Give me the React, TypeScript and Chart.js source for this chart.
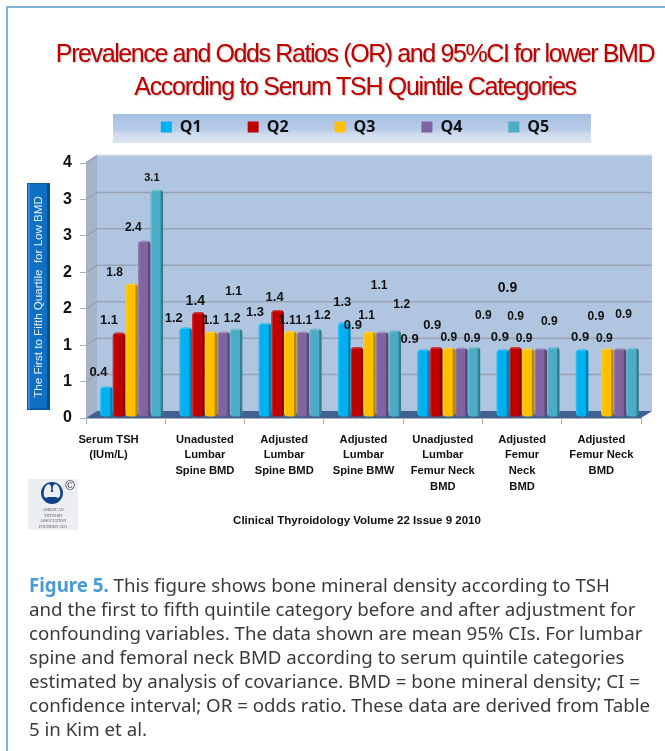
import React, { useEffect, useRef } from "react";
import { Chart, registerables } from "chart.js";

Chart.register(...registerables);

const categories = [
  ["Serum TSH", "(IUm/L)"],
  ["Unadusted", "Lumbar", "Spine BMD"],
  ["Adjusted", "Lumbar", "Spine BMD"],
  ["Adjusted", "Lumbar", "Spine BMW"],
  ["Unadjusted", "Lumbar", "Femur Neck", "BMD"],
  ["Adjusted", "Femur", "Neck", "BMD"],
  ["Adjusted", "Femur Neck", "BMD"],
];
const seriesNames = ["Q1", "Q2", "Q3", "Q4", "Q5"];
const q1Values = [0.42, 1.23, 1.29, 1.3, 0.93, 0.93, 0.93];
const q2Values = [1.16, 1.44, 1.47, 0.96, 0.96, 0.96, null];
const q3Values = [1.83, 1.17, 1.18, 1.17, 0.95, 0.94, 0.94];
const q4Values = [2.42, 1.17, 1.17, 1.17, 0.95, 0.94, 0.94];
const q5Values = [3.12, 1.21, 1.21, 1.19, 0.96, 0.96, 0.95];
const q1Labels = ["0.4", "1.2", "1.3", "1.3", "0.9", "0.9", "0.9"];
const q2Labels = ["1.1", "1.4", "1.4", "0.9", "0.9", "0.9", ""];
const q3Labels = ["1.8", "1.1", "1.1", "1.1", "0.9", "0.9", "0.9"];
const q4Labels = ["2.4", "1.1", "1.1", "1.1", "0.9", "0.9", "0.9"];
const q5Labels = ["3.1", "1.2", "1.2", "1.2", "0.9", "0.9", "0.9"];
const yTickLabels = ["0", "1", "1", "2", "2", "3", "3", "4"];
const titleLine1 = "Prevalence and Odds Ratios (OR) and 95%CI for lower BMD";
const titleLine2 = "According to Serum TSH Quintile Categories";
const yTitle = "The First to Fifth Quartile  for Low BMD";
const sourceNote = "Clinical Thyroidology Volume 22 Issue 9 2010";
const logoLines = ["AMERICAN", "THYROID", "ASSOCIATION", "FOUNDED 1923"];
const captionLead = "Figure 5.";
const captionLines = [
  " This figure shows bone mineral density according to TSH",
  "and the first to fifth quintile category before and after adjustment for",
  "confounding variables. The data shown are mean 95% CIs. For lumbar",
  "spine and femoral neck BMD according to serum quintile categories",
  "estimated by analysis of covariance. BMD = bone mineral density; CI =",
  "confidence interval; OR = odds ratio. These data are derived from Table",
  "5 in Kim et al.",
];

const seriesValues = [q1Values, q2Values, q3Values, q4Values, q5Values];
const seriesLabels = [q1Labels, q2Labels, q3Labels, q4Labels, q5Labels];
const seriesColors = ["#00b0f0", "#c00000", "#ffc000", "#8064a2", "#4bacc6"];

// Style table: nudges of the free-floating value labels from their bar tops, [dx, dy, font px].
const labelNudges: number[][][] = [
  [[-8, -14, 13], [-10, -12, 13], [-17, -11, 12], [-11, -13, 12], [-5, -12, 11]],
  [[-12, -9, 13], [-3, -11, 14], [0, -11, 12], [10, -40, 12], [-4, -10, 12]],
  [[-10, -11, 13], [-3, -12, 13], [-3, -10, 12], [1, -11, 12], [7, -13, 12]],
  [[-2, -20, 13], [-4, -22, 13], [-3, -16, 12], [-3, -46, 12], [7, -26, 12]],
  [[-14, -10, 13], [-4, -22, 13], [0, -10, 12], [22, -32, 12], [-2, -8, 12]],
  [[-3, -12, 13], [-8, -59, 14], [-4, -10, 12], [-25, -32, 12], [-4, -25, 12]],
  [[-2, -12, 13], [0, 0, 12], [-3, -10, 12], [-24, -32, 12], [-9, -33, 12]],
];

const DEPTH_X = 11;
const DEPTH_Y = 7;
const BAR_SHIFT_X = 6;
const BAR_SHIFT_Y = -1;
const SANS = "'Liberation Sans', Arial, sans-serif";

function styleTitleBox(chart: any, box: any, spacing: string) {
  if (!box) return;
  box.left = 40;
  box.right = 670;
  if (box.__wrapped) return;
  const draw = box.draw.bind(box);
  box.draw = () => {
    const c = chart.ctx;
    c.save();
    c.letterSpacing = spacing;
    c.shadowColor = "rgba(90,90,90,0.4)";
    c.shadowOffsetX = 1;
    c.shadowOffsetY = 1;
    c.shadowBlur = 1.5;
    draw();
    c.restore();
  };
  box.__wrapped = true;
}

const scenery = {
  id: "scenery",
  beforeLayout(chart: any) {
    const legend = chart.legend;
    if (legend && !legend.__wrapped) {
      const fit = legend.fit.bind(legend);
      legend.fit = () => {
        fit();
        legend.height = 90;
      };
      legend.__wrapped = true;
    }
  },
  afterLayout(chart: any) {
    styleTitleBox(chart, chart.titleBlock, "-1.4px");
    styleTitleBox(chart, chart.boxes.find((b: any) => b.options && b.options.text === titleLine2), "-1.3px");
    const y = chart.scales.y;
    y.left = chart.chartArea.left - 37;
    y.width = 37;
  },
  beforeDraw(chart: any) {
    const c = chart.ctx;
    const { left, right, top, bottom } = chart.chartArea;
    c.save();
    // legend band
    const band = c.createLinearGradient(0, 114, 0, 143);
    band.addColorStop(0, "#a6bfe4");
    band.addColorStop(0.55, "#b9cce8");
    band.addColorStop(0.7, "#d0dcee");
    band.addColorStop(1, "#dbe4f1");
    c.fillStyle = band;
    c.fillRect(113, 114, 478, 29);
    // back wall
    c.fillStyle = "#b0c6e0";
    c.fillRect(left + DEPTH_X, top - DEPTH_Y - 1, right - left, bottom - top + 1);
    c.strokeStyle = "#dfe3e8";
    c.lineWidth = 1.5;
    c.beginPath();
    c.moveTo(left, top);
    c.lineTo(left + DEPTH_X, top - DEPTH_Y - 1);
    c.lineTo(right + DEPTH_X, top - DEPTH_Y - 1);
    c.stroke();
    // side wall
    const side = c.createLinearGradient(left, 0, left + DEPTH_X, 0);
    side.addColorStop(0, "#a8b4c6");
    side.addColorStop(1, "#a4b5ca");
    c.fillStyle = side;
    c.beginPath();
    c.moveTo(left, top);
    c.lineTo(left + DEPTH_X, top - DEPTH_Y - 1);
    c.lineTo(left + DEPTH_X, bottom - DEPTH_Y);
    c.lineTo(left, bottom);
    c.closePath();
    c.fill();
    // wall gridlines
    const y = chart.scales.y;
    c.strokeStyle = "#97a3b4";
    c.lineWidth = 1.5;
    y.ticks.forEach((t: any, i: number) => {
      if (i === 0) return;
      const py = y.getPixelForValue(t.value);
      c.beginPath();
      c.moveTo(left, py);
      c.lineTo(left + DEPTH_X, py - DEPTH_Y);
      if (i < y.ticks.length - 1) c.lineTo(right + DEPTH_X, py - DEPTH_Y);
      c.stroke();
    });
    // floor
    c.fillStyle = "#3f6090";
    c.beginPath();
    c.moveTo(left, bottom);
    c.lineTo(left + DEPTH_X, bottom - DEPTH_Y);
    c.lineTo(right + DEPTH_X, bottom - DEPTH_Y);
    c.lineTo(right, bottom);
    c.closePath();
    c.fill();
    // y title box
    c.fillStyle = "#0a5ca8";
    c.fillRect(27, 183, 23, 227);
    c.fillStyle = "#0f6fc0";
    c.fillRect(29, 184, 18, 224);
    c.fillStyle = "#2d8fdc";
    c.fillRect(28, 184, 2, 225);
    c.fillStyle = "#0a4d8c";
    c.fillRect(47, 184, 3, 226);
    // logo
    c.fillStyle = "#eceff1";
    c.fillRect(28, 479, 50, 51);
    c.fillStyle = "#12438a";
    c.beginPath();
    c.arc(52, 493, 11, 0, Math.PI * 2);
    c.fill();
    c.fillStyle = "#eceff1";
    c.beginPath();
    c.ellipse(47.5, 491, 3.5, 7, 0.25, 0, Math.PI * 2);
    c.fill();
    c.beginPath();
    c.ellipse(56.5, 491, 3.5, 7, -0.25, 0, Math.PI * 2);
    c.fill();
    c.fillRect(47, 492, 10, 5);
    c.fillStyle = "#333";
    c.font = `13px ${SANS}`;
    c.textAlign = "center";
    c.textBaseline = "middle";
    c.fillText("©", 70, 486);
    c.fillStyle = "#555";
    c.font = "4px 'Liberation Serif', serif";
    logoLines.forEach((s, i) => c.fillText(s, 53, 510 + i * 5.5));
    // source note
    c.fillStyle = "#111";
    c.font = `bold 11.5px ${SANS}`;
    c.fillText(sourceNote, 357, 521);
    c.restore();
  },
  beforeDatasetsDraw(chart: any) {
    chart.ctx.save();
    chart.ctx.translate(BAR_SHIFT_X, BAR_SHIFT_Y);
  },
  afterDatasetsDraw(chart: any) {
    const c = chart.ctx;
    // bar shading, still in the shifted frame
    chart.data.datasets.forEach((_: any, d: number) => {
      chart.getDatasetMeta(d).data.forEach((el: any, i: number) => {
        if (seriesValues[d][i] == null) return;
        const { x, y, base, width } = el.getProps(["x", "y", "base", "width"]);
        c.save();
        c.beginPath();
        c.roundRect(x - width / 2, y, width, base - y, 4);
        c.clip();
        c.fillStyle = "rgba(0,0,0,0.28)";
        c.fillRect(x + width / 2 - 2.5, y, 2.5, base - y);
        c.fillStyle = "rgba(255,255,255,0.16)";
        c.fillRect(x - width / 2, y, 1.5, base - y);
        c.fillStyle = "rgba(255,255,255,0.25)";
        c.fillRect(x - width / 2, y, width, 1.5);
        c.restore();
      });
    });
    c.restore();
    // value labels
    c.save();
    c.fillStyle = "#111";
    c.textAlign = "center";
    c.textBaseline = "middle";
    chart.data.datasets.forEach((_: any, d: number) => {
      chart.getDatasetMeta(d).data.forEach((el: any, i: number) => {
        if (seriesValues[d][i] == null) return;
        const { x, y } = el.getProps(["x", "y"]);
        const [dx, dy, size] = labelNudges[i][d];
        c.font = `bold ${size}px ${SANS}`;
        c.fillText(seriesLabels[d][i], x + BAR_SHIFT_X + dx, y + BAR_SHIFT_Y + dy);
      });
    });
    c.restore();
  },
};

export default function App() {
  const ref = useRef<HTMLCanvasElement>(null);
  useEffect(() => {
    const chart = new Chart(ref.current as HTMLCanvasElement, {
      type: "bar",
      data: {
        labels: categories as any,
        datasets: seriesNames.map((name, d) => ({
          label: name,
          data: seriesValues[d],
          backgroundColor: seriesColors[d],
          borderRadius: 4,
          borderSkipped: false,
          barPercentage: 1,
          categoryPercentage: 0.795,
          clip: false,
        })) as any,
      },
      plugins: [scenery],
      options: {
        animation: false,
        responsive: false,
        layout: { padding: { left: 69, right: 24, top: 0, bottom: 0 } },
        plugins: {
          tooltip: { enabled: false },
          title: {
            display: true,
            text: titleLine1,
            color: "#c00000",
            font: { family: SANS, size: 25, weight: "normal", lineHeight: 33 / 25 },
            padding: { top: 38.5, bottom: 0 },
          },
          subtitle: {
            display: true,
            text: titleLine2,
            color: "#c00000",
            font: { family: SANS, size: 25, weight: "normal", lineHeight: 33 / 25 },
            padding: { top: 0, bottom: -31.5 },
          },
          legend: {
            display: true,
            position: "top",
            labels: {
              boxWidth: 11,
              boxHeight: 11,
              padding: 46,
              color: "#111",
              font: { family: "'Open Sans', sans-serif", size: 16, weight: "bold" },
            },
          },
        },
        scales: {
          x: {
            afterFit: (s: any) => {
              s.height = 333;
            },
            grid: { display: true, drawOnChartArea: false, drawTicks: true, tickLength: 6, color: "#a7b0bb", offset: true },
            border: { display: true, color: "#a7b0bb" },
            ticks: {
              autoSkip: false,
              maxRotation: 0,
              minRotation: 0,
              padding: 8,
              color: "#111",
              font: { family: SANS, size: 11.2, weight: "bold", lineHeight: 15.6 / 11.2 },
              callback: (_: any, i: number) =>
                i === 0 ? categories[0].map((s) => s + " ".repeat(11)) : categories[i],
            },
          },
          y: {
            min: 0,
            max: 3.5,
            afterFit: (s: any) => {
              s.width = 17;
            },
            grid: { display: true, drawOnChartArea: false, drawTicks: true, tickLength: 6, color: "#a7b0bb" },
            border: { display: true, color: "#a7b0bb" },
            title: {
              display: true,
              text: yTitle + "    ",
              color: "#e8f1fa",
              font: { family: SANS, size: 11.6, weight: "normal" },
              padding: { top: -17, bottom: 0 },
            },
            ticks: {
              stepSize: 0.5,
              padding: 8,
              color: "#111",
              font: { family: SANS, size: 16, weight: "bold" },
              callback: (_: any, i: number) => yTickLabels[i],
            },
          },
        },
      } as any,
    });
    return () => chart.destroy();
  }, []);
  return (
    <div style={{ position: "absolute", left: 0, top: 0, width: 665, height: 751, overflow: "hidden", background: "#fff" }}>
      <div style={{ position: "absolute", left: 6, top: 6, width: 659, height: 745, borderLeft: "2px solid #7fb4da", borderTop: "2px solid #7fb4da", boxSizing: "border-box" }} />
      <canvas ref={ref} width={665} height={751} style={{ position: "absolute", left: 0, top: 0, display: "block" }} />
      <div style={{ position: "absolute", left: 29, top: 573, whiteSpace: "pre", font: "18.7px/24px 'Noto Sans', sans-serif", color: "#3a3a3a" }}>
        {captionLines.map((line, i) => (
          <div key={i}>
            {i === 0 ? <b style={{ color: "#4a9bd4" }}>{captionLead}</b> : null}
            {line}
          </div>
        ))}
      </div>
    </div>
  );
}
